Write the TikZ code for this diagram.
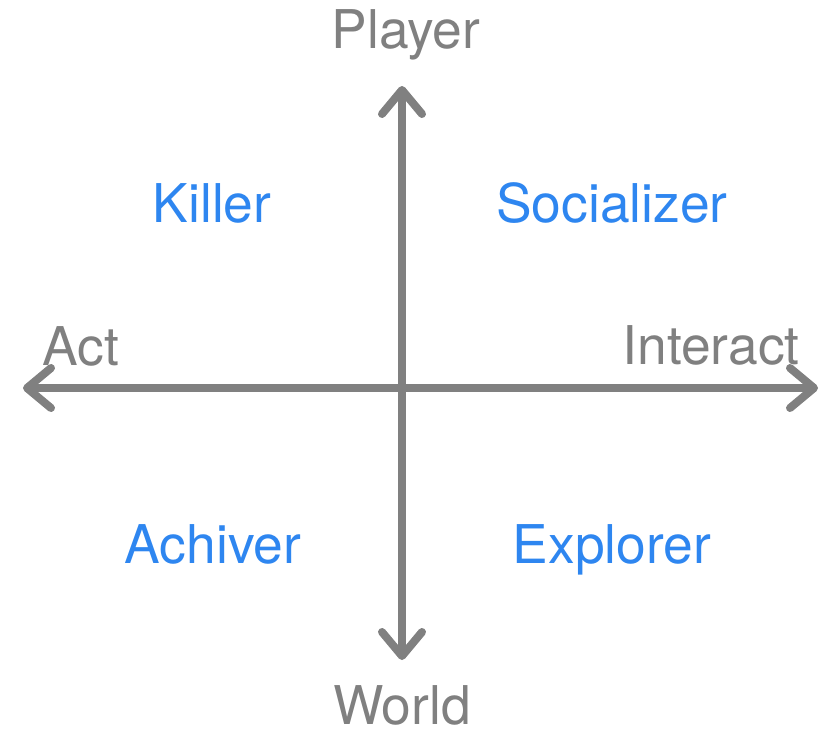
\documentclass[tikz,border=0pt]{standalone}
\usepackage{fontspec}
\setmainfont{TeX Gyre Heros}
\usetikzlibrary{arrows.meta}
\definecolor{axisgray}{RGB}{128,128,128}
\definecolor{typeblue}{RGB}{46,134,240}

\begin{document}
\begin{tikzpicture}[
		x=0.5pt, y=-0.5pt,
		font=\fontsize{26.7pt}{32pt}\selectfont,
		>={Straight Barb[length=12pt, width=20pt, round]},
		axis/.style={<->, line width=4pt, axisgray},
		axis label/.style={text=axisgray, inner sep=0pt, anchor=base},
		type label/.style={text=typeblue, inner sep=0pt, anchor=base}
		]
		\useasboundingbox (0,0) rectangle (831,739);
		
		% ==========================================
		% 1. AXES
		% ==========================================
		
		\coordinate (act end) at (23,388);
		\coordinate (interact end) at (818,388);
		\coordinate (player end) at (402,86);
		\coordinate (world end) at (402,660);
		
		\draw[axis] (act end) -- (interact end);
		\draw[axis] (world end) -- (player end);
		
		% Labels for the axes
		\node[axis label] (player) at (406,48) {Player};
		\node[axis label] (world) at (402,724) {World};
		\node[axis label, anchor=base west] (act) at (42,365) {Act};
		\node[axis label, anchor=base east] (interact) at (800,364) {Interact};
		
		% ==========================================
		% 2. PLAYER TYPES
		% ==========================================
		
		\node[type label] (killer) at (212,222) {Killer};
		\node[type label] (socializer) at (612,222) {Socializer};
		\node[type label] (achiver) at (213,563) {Achiver};
		\node[type label] (explorer) at (612,563) {Explorer};
		
	\end{tikzpicture}
\end{document}
